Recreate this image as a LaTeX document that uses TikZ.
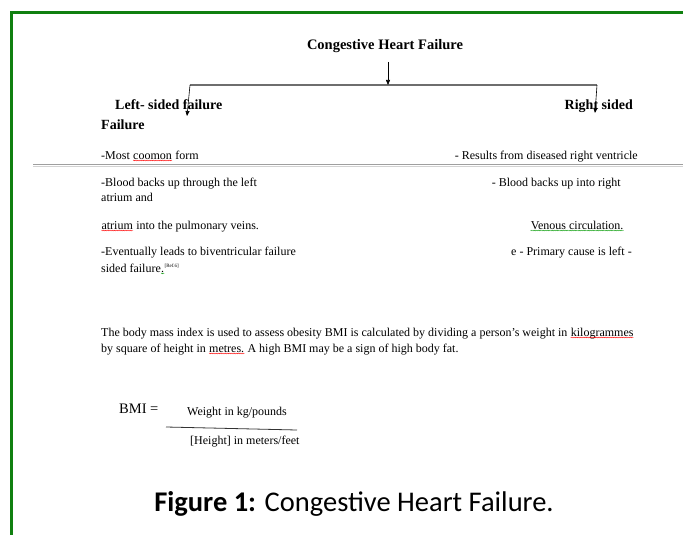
\documentclass[tikz,border=0pt]{standalone}
\usepackage{fontspec}
\setmainfont{Liberation Serif}
\newfontfamily\capfont{Carlito}
\usetikzlibrary{arrows.meta, decorations.pathmorphing, positioning}

\definecolor{framegreen}{RGB}{16,128,16}
\definecolor{bargray}{RGB}{110,110,110}

% spell-check style wavy underline
\newcommand{\squig}[2]{\tikz[baseline=(w.base), x=1pt, y=1pt]{\node[inner sep=0pt] (w) {#2};
	\draw[#1, line width=0.35pt, decorate, decoration={snake, amplitude=0.45pt, segment length=1.8pt}] ([yshift=-1.5pt]w.base west) -- ([yshift=-1.5pt]w.base east);}}

\begin{document}
\begin{tikzpicture}[x=1pt, y=-1pt,
		head/.style={font=\fontsize{14}{16}\selectfont\bfseries, inner sep=0pt},
		body/.style={font=\fontsize{12}{15}\selectfont, inner sep=0pt, align=left},
		frac/.style={font=\fontsize{12}{14}\selectfont, inner sep=0pt},
		arrow/.style={-{Triangle[length=5pt, width=4pt]}, line width=0.6pt},
		bar/.style={line width=1.4pt, bargray}
		]
		\useasboundingbox (0,0) rectangle (683,535);
		
		% Frame
		\draw[framegreen, line width=3pt] (11,535) -- (11,13) -- (683,13);
		
		% Title and branches
		\node[head, font=\fontsize{14.5}{16}\selectfont\bfseries, anchor=base] (chf) at (385,50) {Congestive Heart Failure};
		\coordinate (t0) at (388,62);
		\coordinate (bl) at (190,85);
		\coordinate (bm) at (388,85);
		\coordinate (br) at (597,85);
		\coordinate (la) at (187,116);
		\coordinate (ra) at (595,113);
		\draw[bar] (bl) -- (br);
		\draw[arrow] (t0) -- (bm);
		
		% Headings
		\node[head, anchor=base west] (lhead) at (115,110) {Left- sided failure};
		\node[head, anchor=base west] (lhead2) at (101,129) {Failure};
		\node[head, anchor=base east] (rhead) at (633,110) {Right sided};
		\draw[arrow] (bl) -- (la);
		\draw[arrow] (br) -- (ra);
		
		% First row and divider
		\node[body, anchor=base west] (l1) at (101,159) {-Most \squig{red}{coomon} form};
		\node[body, anchor=base east] (r1) at (638,159) {- Results from diseased right ventricle};
		\draw[line width=1.2pt, gray!75] (33,164.5) -- (683,164.5);
		\draw[line width=0.8pt, gray!35] (33,166.3) -- (683,166.3);
		
		% Left column
		\node[body, anchor=base west] (l2) at (101,186) {-Blood backs up through the left};
		\node[body, anchor=base west] (l2b) at (101,201) {atrium and};
		\node[body, anchor=base west] (l3) at (101,229) {\squig{red}{atrium} into the pulmonary veins.};
		\node[body, anchor=base west] (l4) at (101,255) {-Eventually leads to biventricular failure};
		\node[body, anchor=base west] (l4b) at (101,272) {sided failure\squig{green!60!black}{.}\textsuperscript{\tiny[Ref.6]}};
		
		% Right column
		\node[body, anchor=base east] (r2) at (621,186) {- Blood backs up into right};
		\node[body, anchor=base east] (r3) at (624,229) {\squig{green!60!black}{Venous circulation.}};
		\node[body, anchor=base east] (r4) at (632,255) {e - Primary cause is left -};
		
		% BMI paragraph
		\node[body, anchor=base west] (para) at (101,336) {The body mass index is used to assess obesity BMI is calculated by dividing a person's weight in \squig{red}{kilogrammes}};
		\node[body, anchor=base west] (para2) at (101,352) {by square of height in \squig{red}{metres.} A high BMI may be a sign of high body fat.};
		
		% Formula
		\node[body, font=\fontsize{14.5}{16}\selectfont, anchor=base west] (bmi) at (119,413) {BMI =};
		\node[frac, anchor=base west] (num) at (187,415) {Weight in kg/pounds};
		\node[frac, anchor=base west] (den) at (190,444) {[Height] in meters/feet};
		\coordinate (f0) at (166,427);
		\coordinate (f1) at (297,430);
		\draw[line width=0.8pt, black!80] (f0) -- (f1);
		
		% Caption
		\node[font=\capfont\fontsize{28.5}{32}\selectfont, inner sep=0pt, anchor=base] (cap) at (354,511) {\textbf{Figure 1:} Congestive Heart Failure.};
		
	\end{tikzpicture}
\end{document}
